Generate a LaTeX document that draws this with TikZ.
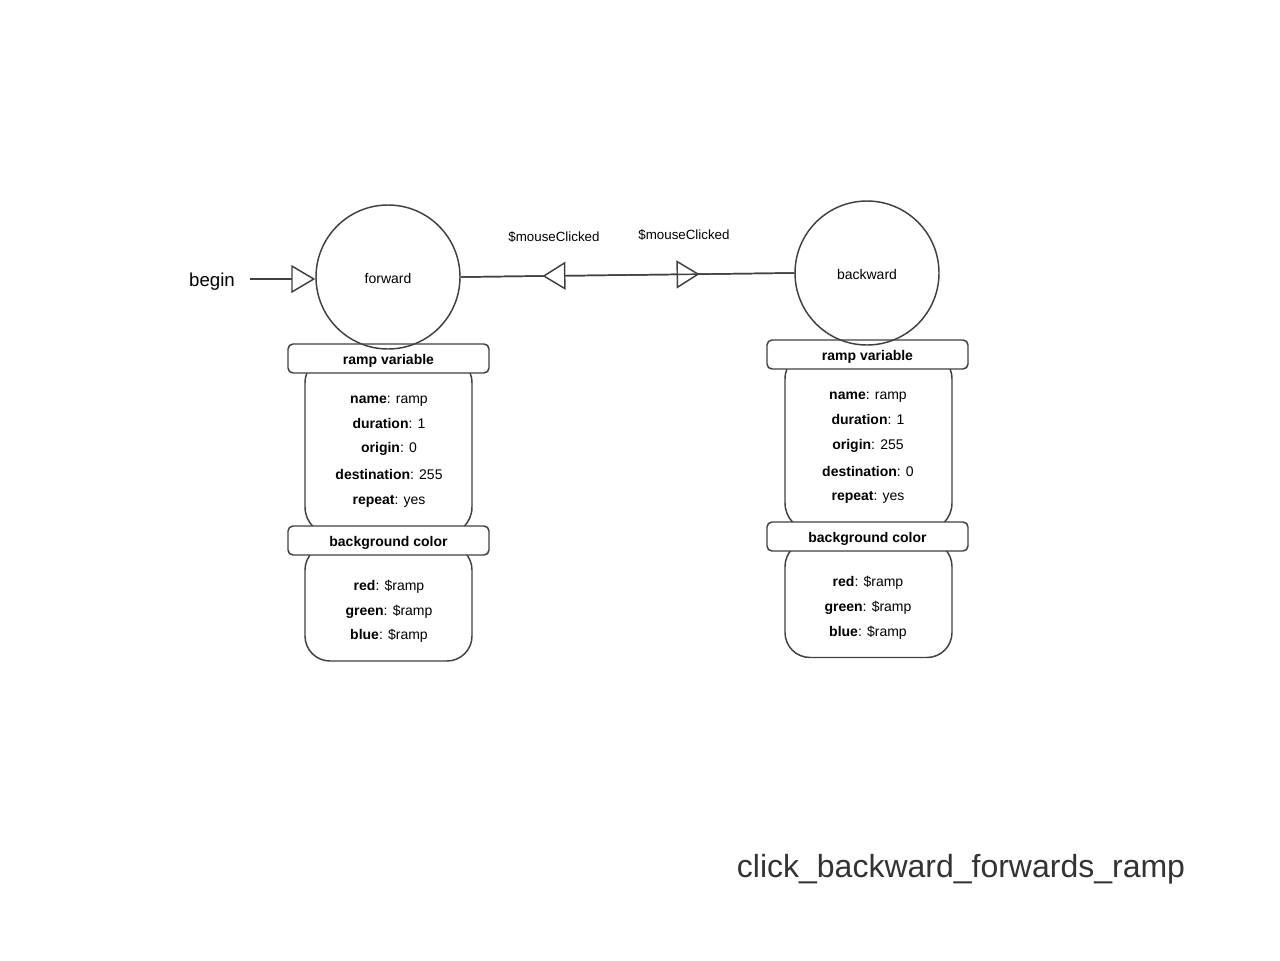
\documentclass[tikz,border=0pt]{standalone}
\usepackage{fontspec}
\setmainfont{Liberation Sans}
\usetikzlibrary{arrows.meta,decorations.markings}
\definecolor{ln}{HTML}{404040}
\definecolor{ttl}{HTML}{333333}
\begin{document}
\begin{tikzpicture}[x=0.75pt,y=-0.75pt,
  lw/.style={line width=1.1pt},
  state/.style={circle,draw=ln,lw,minimum size=108pt,inner sep=0pt,font=\fontsize{10.5}{12}\selectfont,text height=9.6pt,text depth=0.4pt},
  hdr/.style={rectangle,draw=ln,fill=white,lw,rounded corners=3.75pt,minimum width=150.75pt,minimum height=21.75pt,inner sep=0pt,font=\bfseries\fontsize{10.5}{12}\selectfont,text height=9.6pt,text depth=0.4pt},
  bodyA/.style={rectangle,draw=ln,fill=white,lw,rounded corners=21pt,minimum width=125.25pt,minimum height=135pt,inner sep=0pt},
  bodyB/.style={rectangle,draw=ln,fill=white,lw,rounded corners=18.75pt,minimum width=125.25pt,minimum height=87pt,inner sep=0pt},
  txt/.style={font=\fontsize{10.5}{12}\selectfont,inner sep=0pt,text height=9.6pt,text depth=0.4pt},
  lbl/.style={font=\fontsize{10}{12}\selectfont,inner sep=0pt,text height=8.4pt,text depth=0.3pt},
  opentip/.style={-{Triangle[length=18pt,width=21pt,fill=white]}},
  midtip/.style={postaction={decorate},decoration={markings,mark=at position #1 with {\arrow[ln,lw]{Triangle[length=17.25pt,width=21pt,fill=white]}}}}
]
\useasboundingbox (0,0) rectangle (1280,960);

% forward state blocks
\node[bodyA] (fb1) at (388.5,445) {};
\node[bodyB] (fb2) at (388.5,603) {};
\node[hdr] (fh1) at (388.5,358.5) {ramp variable};
\node[hdr] (fh2) at (388.5,540.5) {background color};
\node[state] (fwd) at (388,277) {forward};

\node[txt] (f1) at (389,397) {\textbf{name}: ramp};
\node[txt] (f2) at (389,422) {\textbf{duration}: 1};
\node[txt] (f3) at (389,446) {\textbf{origin}: 0};
\node[txt] (f4) at (389,473) {\textbf{destination}: 255};
\node[txt] (f5) at (389,498) {\textbf{repeat}: yes};
\node[txt] (f6) at (389,584) {\textbf{red}: \$ramp};
\node[txt] (f7) at (389,609) {\textbf{green}: \$ramp};
\node[txt] (f8) at (389,633) {\textbf{blue}: \$ramp};

% backward state blocks
\node[bodyA] (bb1) at (868.5,441) {};
\node[bodyB] (bb2) at (868.5,599.5) {};
\node[hdr] (bh1) at (867.5,354.5) {ramp variable};
\node[hdr] (bh2) at (867.5,536.5) {background color};
\node[state] (bwd) at (867,273) {backward};

\node[txt] (b1) at (868,393) {\textbf{name}: ramp};
\node[txt] (b2) at (868,418) {\textbf{duration}: 1};
\node[txt] (b3) at (868,443) {\textbf{origin}: 255};
\node[txt] (b4) at (868,470) {\textbf{destination}: 0};
\node[txt] (b5) at (868,494) {\textbf{repeat}: yes};
\node[txt] (b6) at (868,580) {\textbf{red}: \$ramp};
\node[txt] (b7) at (868,605) {\textbf{green}: \$ramp};
\node[txt] (b8) at (868,630) {\textbf{blue}: \$ramp};

% begin
\node[font=\fontsize{14}{16}\selectfont,inner sep=0pt,text height=9.6pt,text depth=0.3pt] (beg) at (212,280) {begin};
\coordinate (bs) at (250,279);
\draw[ln,lw,opentip] (bs) -- (bs -| fwd.west);

% transitions
\draw[ln,lw,midtip=0.716] (fwd.east) -- (bwd.west);
\draw[ln,lw,midtip=0.755] (bwd.west) -- (fwd.east);
\node[lbl] (l1) at (554,236) {\$mouseClicked};
\node[lbl] (l2) at (684,234) {\$mouseClicked};

% title
\node[font=\fontsize{24}{28}\selectfont,text=ttl,inner sep=0pt,text height=17.1pt,text depth=0.3pt] (title) at (961,866) {click\_backward\_forwards\_ramp};
\end{tikzpicture}
\end{document}
